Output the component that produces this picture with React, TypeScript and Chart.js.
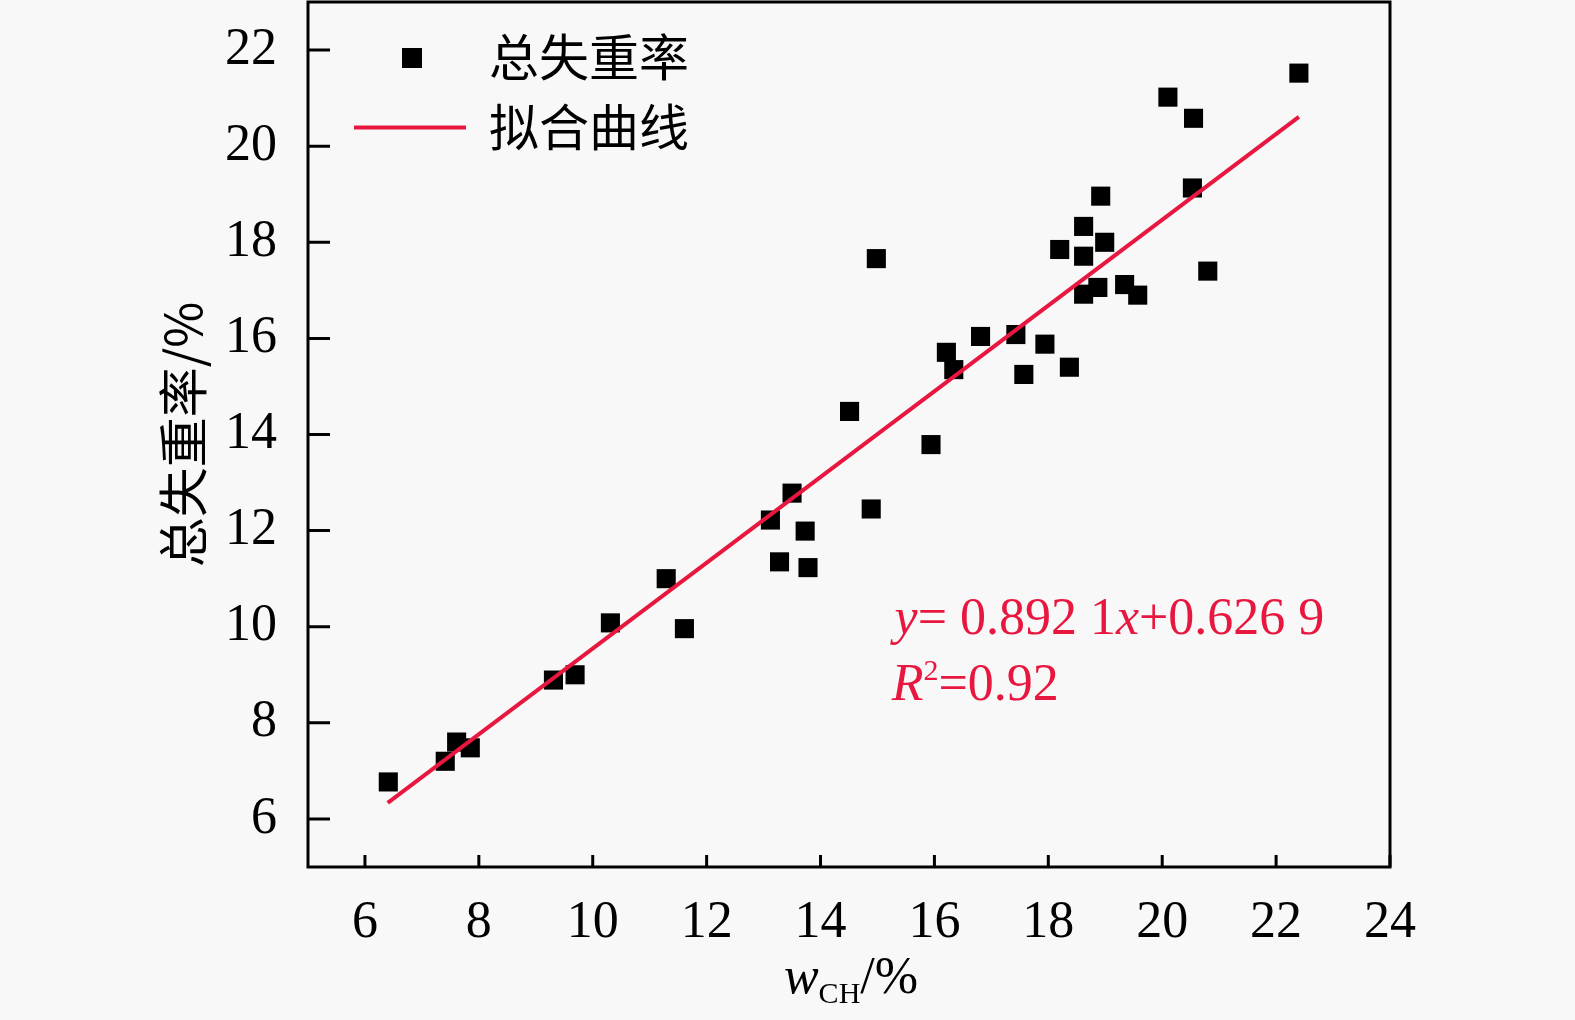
import React, { useEffect, useRef } from 'react';
import { Chart, registerables } from 'chart.js';

Chart.register(...registerables);

// ---- data ----
const xValues = [
  6.41, 7.41, 7.61, 7.85, 9.31, 9.69, 10.31, 11.29, 11.61,
  13.12, 13.28, 13.5, 13.73, 13.78, 14.51, 14.89, 14.98,
  15.94, 16.21, 16.34, 16.81, 17.43, 17.57, 17.94, 18.2, 18.37,
  18.62, 18.62, 18.62, 18.87, 18.92, 18.99, 19.34, 19.57,
  20.1, 20.55, 20.53, 20.8, 22.4,
];
const yValues = [
  6.77, 7.2, 7.6, 7.48, 8.89, 9.0, 10.08, 11.0, 9.96,
  12.22, 11.35, 12.78, 11.99, 11.23, 14.48, 12.45, 17.66,
  13.79, 15.71, 15.35, 16.04, 16.08, 15.25, 15.88, 17.85, 15.4,
  18.33, 17.71, 16.92, 17.06, 18.96, 18.0, 17.12, 16.9,
  21.02, 20.58, 19.13, 17.4, 21.52,
];
const fitSlope = 0.8921;
const fitIntercept = 0.6269;
const fitXRange = [6.4, 22.4];
const xTicks = [6, 8, 10, 12, 14, 16, 18, 20, 22, 24];
const yTicks = [6, 8, 10, 12, 14, 16, 18, 20, 22];
const seriesNames = ['总失重率', '拟合曲线'];
const yTitle = '总失重率/%';

const RED = '#e8173f';
const SERIF = '"Liberation Serif", "Times New Roman", serif';
const CJK = '"Noto Sans CJK SC", "Liberation Serif", sans-serif';

type Run = { text: string; font: string; dy?: number };

function drawRuns(ctx: CanvasRenderingContext2D, runs: Run[], x: number, y: number) {
  let cx = x;
  for (const r of runs) {
    ctx.font = r.font;
    ctx.fillText(r.text, cx, y + (r.dy || 0));
    cx += ctx.measureText(r.text).width;
  }
  return cx - x;
}

function runsWidth(ctx: CanvasRenderingContext2D, runs: Run[]) {
  let w = 0;
  for (const r of runs) {
    ctx.font = r.font;
    w += ctx.measureText(r.text).width;
  }
  return w;
}

const decorPlugin = {
  id: 'decor',
  beforeDraw(chart: any) {
    const { ctx, width, height } = chart;
    ctx.save();
    ctx.fillStyle = '#f8f8f8';
    ctx.fillRect(0, 0, width, height);
    ctx.restore();
  },
  afterDraw(chart: any) {
    const { ctx, chartArea: a } = chart;
    const xs = chart.scales.x;
    const ys = chart.scales.y;
    ctx.save();
    // inward ticks
    ctx.strokeStyle = '#000';
    ctx.lineWidth = 3;
    ctx.beginPath();
    for (const v of xTicks) {
      const px = xs.getPixelForValue(v);
      ctx.moveTo(px, a.bottom);
      ctx.lineTo(px, a.bottom - 12);
    }
    for (const v of yTicks) {
      const py = ys.getPixelForValue(v);
      ctx.moveTo(a.left, py);
      ctx.lineTo(a.left + 22, py);
    }
    ctx.stroke();
    // frame
    ctx.lineWidth = 3;
    ctx.strokeRect(a.left, a.top, a.right - a.left, a.bottom - a.top);

    // legend
    ctx.fillStyle = '#000';
    ctx.fillRect(a.left + 104 - 10, a.top + 56 - 10, 20, 20);
    ctx.strokeStyle = RED;
    ctx.lineWidth = 4;
    ctx.beginPath();
    ctx.moveTo(a.left + 46, a.top + 125.5);
    ctx.lineTo(a.left + 158, a.top + 125.5);
    ctx.stroke();
    ctx.fillStyle = '#000';
    ctx.textAlign = 'left';
    ctx.textBaseline = 'middle';
    ctx.font = `50px ${CJK}`;
    ctx.fillText(seriesNames[0], a.left + 181, a.top + 55);
    ctx.fillText(seriesNames[1], a.left + 181, a.top + 125);

    // equation
    ctx.textBaseline = 'alphabetic';
    ctx.fillStyle = RED;
    const eqX = xs.getPixelForValue(15.3);
    const eqY = ys.getPixelForValue(9.85);
    drawRuns(ctx, [
      { text: 'y', font: `italic 52px ${SERIF}` },
      { text: '= 0.892 1', font: `52px ${SERIF}` },
      { text: 'x', font: `italic 52px ${SERIF}` },
      { text: '+0.626 9', font: `52px ${SERIF}` },
    ], eqX, eqY);
    const r2X = xs.getPixelForValue(15.25);
    const r2Y = ys.getPixelForValue(8.47);
    drawRuns(ctx, [
      { text: 'R', font: `italic 52px ${SERIF}` },
      { text: '2', font: `30px ${SERIF}`, dy: -20 },
      { text: '=0.92', font: `52px ${SERIF}` },
    ], r2X, r2Y);

    // x-axis title
    ctx.fillStyle = '#000';
    const xt: Run[] = [
      { text: 'w', font: `italic 52px ${SERIF}` },
      { text: 'CH', font: `30px ${SERIF}`, dy: 10 },
      { text: '/%', font: `52px ${SERIF}` },
    ];
    const w = runsWidth(ctx, xt);
    drawRuns(ctx, xt, (a.left + a.right) / 2 + 2 - w / 2, a.bottom + 126);
    ctx.restore();
  },
};

export default function App() {
  const ref = useRef<HTMLCanvasElement>(null);
  useEffect(() => {
    const points = xValues.map((x, i) => ({ x, y: yValues[i] }));
    const fitPoints = fitXRange.map((x) => ({ x, y: fitSlope * x + fitIntercept }));
    const chart = new Chart(ref.current as HTMLCanvasElement, {
      type: 'scatter',
      data: {
        datasets: [
          {
            label: seriesNames[1],
            data: fitPoints,
            showLine: true,
            borderColor: RED,
            backgroundColor: RED,
            borderWidth: 4,
            pointRadius: 0,
          } as any,
          {
            label: seriesNames[0],
            data: points,
            pointStyle: 'rect',
            pointRadius: 13.5,
            pointBorderWidth: 0,
            backgroundColor: '#000',
            borderColor: '#000',
          } as any,
        ],
      },
      options: {
        animation: false,
        responsive: true,
        maintainAspectRatio: false,
        layout: { autoPadding: false, padding: { left: 0, top: 2, right: 185, bottom: 0 } },
        plugins: { legend: { display: false }, tooltip: { enabled: false } },
        scales: {
          x: {
            type: 'linear',
            min: 5,
            max: 24,
            grid: { display: false },
            border: { display: false },
            afterBuildTicks: (s: any) => {
              s.ticks = xTicks.map((v) => ({ value: v }));
            },
            afterFit: (s: any) => {
              s.height = 153;
              s.paddingLeft = 0;
              s.paddingRight = 0;
            },
            ticks: {
              padding: 17,
              color: '#000',
              maxRotation: 0,
              autoSkip: false,
              font: { family: SERIF, size: 52 },
            },
          },
          y: {
            type: 'linear',
            min: 5,
            max: 23,
            grid: { display: false },
            border: { display: false },
            afterBuildTicks: (s: any) => {
              s.ticks = yTicks.map((v) => ({ value: v }));
            },
            afterFit: (s: any) => {
              s.width = 308;
              s.paddingTop = 0;
              s.paddingBottom = 0;
            },
            ticks: {
              padding: 23,
              color: '#000',
              autoSkip: false,
              font: { family: SERIF, size: 52 },
            },
            title: {
              display: true,
              text: yTitle,
              color: '#000',
              font: { family: CJK, size: 50 },
              padding: { top: 153, bottom: 0 },
            },
          },
        },
      },
      plugins: [decorPlugin],
    });
    return () => chart.destroy();
  }, []);
  return (
    <div style={{ position: 'absolute', left: 0, top: 0, width: 1575, height: 1020, background: '#f8f8f8' }}>
      <canvas ref={ref} />
    </div>
  );
}
